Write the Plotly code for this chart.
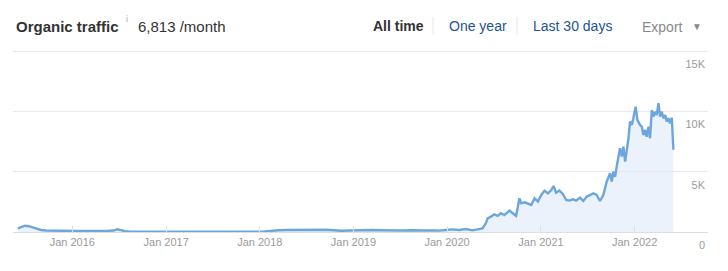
import plotly.graph_objects as go

# ---- data -------------------------------------------------------------
early_dates = [
    "2015-06-03", "2015-06-18", "2015-07-01", "2015-07-15", "2015-08-01", "2015-08-15",
    "2015-09-01", "2015-09-20", "2015-10-15", "2015-11-15", "2015-12-15", "2016-01-15",
    "2016-02-15", "2016-03-15", "2016-04-15", "2016-05-15", "2016-06-10", "2016-06-25",
    "2016-07-08", "2016-07-25", "2016-08-15", "2016-10-01", "2016-12-01", "2017-03-01",
    "2017-06-01", "2017-09-01", "2017-12-01", "2018-01-20", "2018-02-15", "2018-03-15",
    "2018-04-15", "2018-05-15", "2018-06-15", "2018-07-15", "2018-08-15", "2018-09-15",
    "2018-10-15", "2018-11-15", "2018-12-15", "2019-01-15", "2019-02-15", "2019-03-15",
    "2019-04-15", "2019-05-15", "2019-06-15", "2019-07-15", "2019-08-15", "2019-09-15",
    "2019-10-15", "2019-11-15",
]
early_values = [
    300, 450, 520, 480, 380, 260,
    170, 120, 100, 90, 95, 85,
    90, 75, 80, 95, 120, 230,
    160, 60, 30, 25, 20, 20,
    20, 20, 20, 40, 110, 150,
    170, 180, 190, 200, 210, 190,
    150, 100, 120, 150, 140, 170,
    150, 130, 110, 120, 140, 110,
    120, 130,
]

mid_dates = [
    "2019-12-01", "2019-12-27", "2020-01-22", "2020-02-17", "2020-03-14", "2020-04-09",
    "2020-05-05", "2020-05-18", "2020-05-31", "2020-06-07", "2020-06-20", "2020-07-03",
    "2020-07-16", "2020-07-29", "2020-08-11", "2020-08-24", "2020-08-31", "2020-09-13",
    "2020-09-26", "2020-10-09", "2020-10-16", "2020-10-29", "2020-11-11", "2020-11-24",
    "2020-12-07", "2020-12-20", "2021-01-02", "2021-01-15", "2021-01-28", "2021-02-10",
    "2021-02-19", "2021-03-01", "2021-03-14", "2021-03-27", "2021-04-09", "2021-04-22",
    "2021-05-05", "2021-05-18",
]
mid_values = [
    110, 165, 220, 165, 250, 140,
    220, 300, 720, 1130, 1270, 1460,
    1330, 1550, 1400, 1600, 1770, 1550,
    1330, 2790, 2380, 2460, 2380, 2240,
    2790, 2520, 3070, 3430, 3200, 3480,
    3810, 3250, 3430, 3150, 2650, 2600,
    2710, 2600,
]

late_dates = [
    "2021-06-02", "2021-06-15", "2021-06-28", "2021-07-11", "2021-07-24", "2021-08-06",
    "2021-08-19", "2021-09-01", "2021-09-14", "2021-09-27", "2021-10-04", "2021-10-10",
    "2021-10-17", "2021-10-23", "2021-10-30", "2021-11-05", "2021-11-12", "2021-11-18",
    "2021-11-25", "2021-12-01", "2021-12-08", "2021-12-14", "2021-12-21", "2021-12-27",
    "2022-01-05", "2022-01-12", "2022-01-22", "2022-01-29", "2022-02-04", "2022-02-11",
    "2022-02-17", "2022-02-24", "2022-03-02", "2022-03-09", "2022-03-15", "2022-03-22",
    "2022-03-28", "2022-04-04", "2022-04-10", "2022-04-17", "2022-04-23", "2022-04-30",
    "2022-05-06", "2022-05-13", "2022-05-19", "2022-05-26", "2022-06-01",
]
late_values = [
    2850, 2570, 2930, 3070, 3200, 3070,
    2570, 3070, 4170, 4860, 4170, 5000,
    4580, 5420, 6110, 6940, 6250, 7080,
    5830, 6660, 7770, 9150, 8870, 9420,
    10390, 9280, 8870, 8730, 8040, 8460,
    7900, 8730, 7770, 10110, 9560, 9970,
    9700, 10670, 9560, 9970, 9420, 9700,
    9150, 9420, 9010, 9470, 6813,
]

x_tick_dates = ["2016-01-01", "2017-01-01", "2018-01-01", "2019-01-01",
                "2020-01-01", "2021-01-01", "2022-01-01"]
x_tick_labels = ["Jan 2016", "Jan 2017", "Jan 2018", "Jan 2019",
                 "Jan 2020", "Jan 2021", "Jan 2022"]
y_tick_vals = [0, 5000, 10000, 15000]
y_tick_labels = ["0", "5K", "10K", "15K"]

dates = early_dates + mid_dates + late_dates
values = early_values + mid_values + late_values

# ---- figure -----------------------------------------------------------
FONT = "Liberation Sans, Arial, Helvetica, sans-serif"
W, H = 728, 271
ML, MR, MT, MB = 13, 20, 46, 39
PW, PH = W - ML - MR, H - MT - MB
Y_TOP = 15000 * PH / 181.0


def px(x):
    return (x - ML) / PW


def py(y):
    return (H - MB - y) / PH


fig = go.Figure()
fig.add_trace(go.Scatter(
    x=dates, y=values, mode="lines",
    line=dict(color="#6ca6dd", width=2.4),
    fill="tozeroy", fillcolor="rgba(222,234,250,0.6)",
    hoverinfo="skip",
))

fig.update_layout(
    width=W, height=H,
    margin=dict(l=ML, r=MR, t=MT, b=MB),
    paper_bgcolor="white", plot_bgcolor="white",
    showlegend=False,
    font=dict(family=FONT, color="#999999", size=11),
    xaxis=dict(
        type="date",
        range=["2015-05-15", "2022-10-14"],
        tickmode="array", tickvals=x_tick_dates, ticktext=x_tick_labels,
        ticks="inside", ticklen=6, tickcolor="#e0e0e0", tickwidth=1,
        showgrid=False, zeroline=False,
        showline=True, linecolor="#dedede", linewidth=1,
        tickfont=dict(family=FONT, size=11, color="#9a9a9a"),
        fixedrange=True,
    ),
    yaxis=dict(
        side="right",
        range=[0, Y_TOP],
        tickmode="array", tickvals=y_tick_vals, ticktext=y_tick_labels,
        ticklabelposition="inside",
        ticklabelshift=13,
        ticklabeloverflow="allow",
        ticks="",
        showgrid=True, gridcolor="#e9e9e9", gridwidth=1,
        zeroline=False, showline=False,
        tickfont=dict(family=FONT, size=11, color="#9a9a9a"),
        fixedrange=True,
    ),
)

ann = [
    dict(text="<b>Organic traffic</b>", x=px(14), y=py(26), size=15, color="#333333"),
    dict(text="i", x=px(124), y=py(19), size=9, color="#aaaaaa"),
    dict(text="6,813 /month", x=px(136), y=py(26), size=15, color="#333333"),
    dict(text="<b>All time</b>", x=px(371), y=py(26), size=14, color="#333333"),
    dict(text="One year", x=px(447), y=py(26), size=14, color="#22548f"),
    dict(text="Last 30 days", x=px(531), y=py(26), size=14, color="#22548f"),
    dict(text="Export", x=px(640), y=py(27), size=14, color="#8a8a8a"),
    dict(text="▼", x=px(690), y=py(26), size=10, color="#8a8a8a"),
]
for a in ann:
    fig.add_annotation(
        text=a["text"], xref="paper", yref="paper", x=a["x"], y=a["y"],
        xanchor="left", yanchor="middle", showarrow=False,
        font=dict(family=FONT, size=a["size"], color=a["color"]),
    )

for sx in (433, 517):
    fig.add_shape(type="line", xref="paper", yref="paper",
                  x0=px(sx), x1=px(sx), y0=py(17), y1=py(35),
                  line=dict(color="#e6e6e6", width=1))

fig.write_html("out.html")
